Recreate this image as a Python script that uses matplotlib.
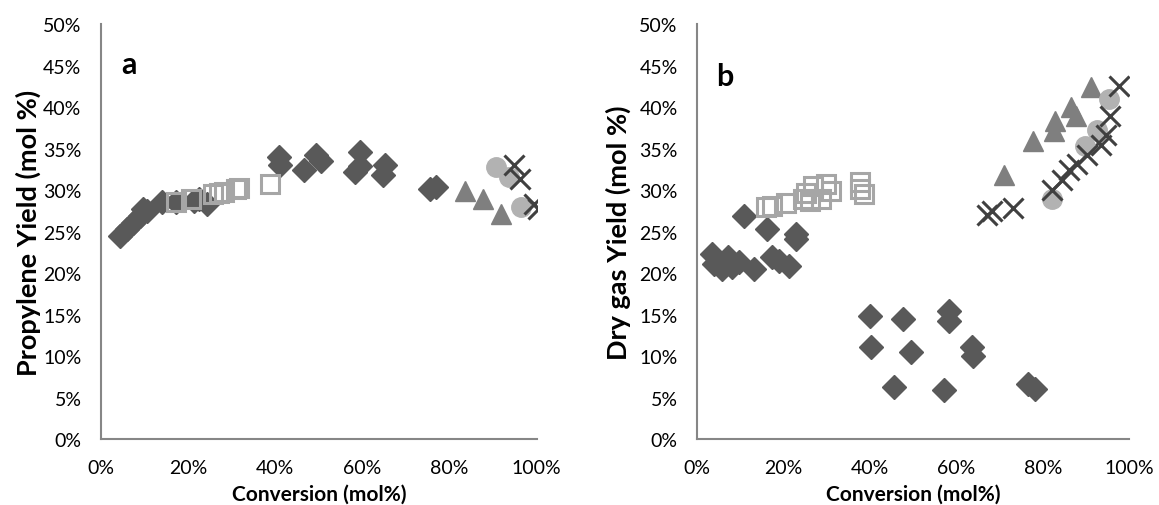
import matplotlib
matplotlib.use("Agg")
import matplotlib.pyplot as plt
from matplotlib.ticker import FuncFormatter

plt.rcParams['font.family'] = ['Lato', 'DejaVu Sans']

# ---- panel a : propylene yield vs conversion (values in %) ----
a_diamond_x = [4.3, 5.9, 7.3, 8.9, 9.6, 10.5, 13.9, 17.3, 21.4, 22.5, 24.4,
               40.8, 41.2, 46.5, 49.4, 50.6, 58.3, 59.5, 59.5, 64.7, 65.1,
               75.4, 76.8]
a_diamond_y = [24.5, 25.3, 26.1, 26.9, 27.7, 27.5, 28.6, 28.6, 28.7, 29.0, 28.3,
               34.0, 33.1, 32.5, 34.3, 33.5, 32.2, 32.9, 34.6, 31.9, 33.1,
               30.1, 30.4]
a_square_x = [17.3, 20.7, 25.6, 27.1, 28.2, 31.0, 31.7, 38.9]
a_square_y = [28.6, 28.9, 29.5, 29.7, 29.8, 30.1, 30.3, 30.7]
a_triangle_x = [83.6, 87.7, 91.8]
a_triangle_y = [29.9, 28.9, 27.1]
a_circle_x = [90.7, 93.6, 96.4]
a_circle_y = [32.8, 31.6, 28.0]
a_cross_x = [94.8, 96.1, 99.4, 100.4]
a_cross_y = [33.1, 31.3, 28.3, 27.8]

# ---- panel b : dry gas yield vs conversion ----
b_diamond_x = [3.4, 3.9, 5.7, 7.1, 8.0, 9.8, 10.9, 13.2, 16.2, 17.3, 18.9,
               21.2, 22.8, 23.0, 39.9, 40.3, 45.6, 47.6, 49.4, 57.2, 58.3,
               58.3, 63.6, 63.8, 76.5, 78.1]
b_diamond_y = [22.3, 21.1, 20.5, 21.9, 20.7, 21.4, 26.9, 20.5, 25.3, 21.9, 21.5,
               20.9, 24.1, 24.7, 14.8, 11.1, 6.3, 14.5, 10.5, 5.9, 14.2,
               15.4, 11.1, 10.0, 6.7, 6.0]
b_square_x = [15.9, 17.3, 20.5, 24.6, 25.3, 26.2, 26.9, 28.7, 29.8, 31.0,
              37.6, 37.8, 38.7]
b_square_y = [28.0, 28.1, 28.5, 28.9, 29.7, 28.7, 30.5, 28.9, 30.7, 29.9,
              31.0, 30.1, 29.5]
b_triangle_x = [71.1, 77.7, 82.5, 82.7, 86.6, 87.7, 91.1]
b_triangle_y = [31.9, 35.9, 37.1, 38.3, 40.0, 38.9, 42.4]
b_circle_x = [82.2, 89.7, 92.5, 95.4]
b_circle_y = [28.9, 35.3, 37.3, 41.0]
b_cross_x = [67.0, 68.2, 73.0, 82.0, 84.5, 86.0, 88.0, 90.2, 93.5, 94.7, 95.6, 97.5]
b_cross_y = [27.0, 27.5, 27.9, 30.0, 31.2, 32.4, 33.2, 34.3, 35.5, 36.6, 38.9, 42.6]

panels = [
    ("a", "Propylene Yield (mol %)",
     (a_diamond_x, a_diamond_y), (a_square_x, a_square_y),
     (a_triangle_x, a_triangle_y), (a_circle_x, a_circle_y), (a_cross_x, a_cross_y)),
    ("b", "Dry gas Yield (mol %)",
     (b_diamond_x, b_diamond_y), (b_square_x, b_square_y),
     (b_triangle_x, b_triangle_y), (b_circle_x, b_circle_y), (b_cross_x, b_cross_y)),
]

fig = plt.figure(figsize=(11.59, 5.06), dpi=100)
ax_pos = [[0.0871, 0.130, 0.376, 0.820], [0.6014, 0.130, 0.373, 0.820]]
ylab_x = [-0.137, -0.153]
pct = FuncFormatter(lambda v, p: "%d%%" % v)

for k in range(2):
    letter, ylabel, dia, sq, tri, cir, crs = panels[k]
    ax = fig.add_axes(ax_pos[k])
    ax.plot(dia[0], dia[1], linestyle='none', marker='D', ms=12,
            color='#595959', mec='#595959', clip_on=False)
    ax.plot(sq[0], sq[1], linestyle='none', marker='s', ms=13,
            mfc='none', mec='#a6a6a6', mew=2.2, clip_on=False)
    ax.plot(tri[0], tri[1], linestyle='none', marker='^', ms=15,
            color='#7f7f7f', clip_on=False)
    ax.plot(cir[0], cir[1], linestyle='none', marker='o', ms=14,
            color='#b2b2b2', clip_on=False)
    ax.plot(crs[0], crs[1], linestyle='none', marker='x', ms=14,
            mec='#404040', mew=2.2, clip_on=True)

    ax.set_xlim(0, 100)
    ax.set_ylim(0, 50)
    ax.set_xticks(range(0, 101, 20))
    ax.set_yticks(range(0, 51, 5))
    ax.xaxis.set_major_formatter(pct)
    ax.yaxis.set_major_formatter(pct)
    ax.tick_params(length=0, labelsize=14, pad=14, colors='#000000')
    for s in ['top', 'right']:
        ax.spines[s].set_visible(False)
    for s in ['left', 'bottom']:
        ax.spines[s].set_color('#868686')
        ax.spines[s].set_linewidth(1.5)
    ax.set_xlabel("Conversion (mol%)", fontsize=15, fontweight='bold')
    ax.xaxis.set_label_coords(0.5, -0.108)
    ax.set_ylabel(ylabel, fontsize=19.5, fontweight='bold')
    ax.yaxis.set_label_coords(ylab_x[k], 0.5)
    ax.text(0.065, 0.905 if k == 0 else 0.875, letter, transform=ax.transAxes,
            fontsize=22, fontweight='bold', ha='center', va='center')

fig.savefig("out.png", dpi=100)
